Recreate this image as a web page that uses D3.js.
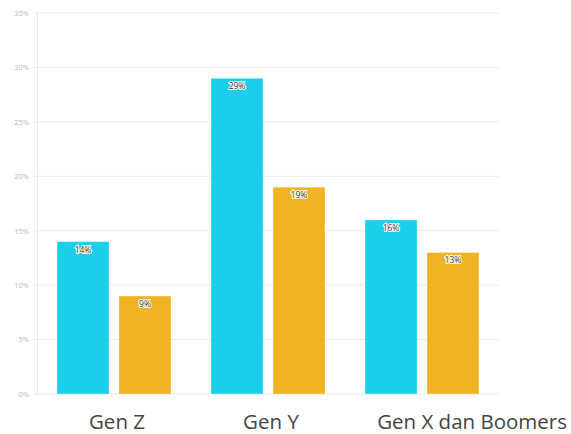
<!DOCTYPE html>
<html>
<head>
<meta charset="utf-8">
<script src="https://cdn.jsdelivr.net/npm/d3@7"></script>
<style>
  body { margin: 0; background: #fff; }
  svg { display: block; }
</style>
</head>
<body>
<div id="chart"></div>
<script>
// chart values
var categories = ["Gen Z", "Gen Y", "Gen X dan Boomers"];
var seriesNames = ["A", "B"];
var seriesA = [14, 29, 16];
var seriesB = [9, 19, 13];
var yTicks = [0, 5, 10, 15, 20, 25, 30, 35];

var colors = ["#1bcfeb", "#f0b323"];

var width = 571;
var height = 434;
var margin = { top: 13, left: 37, bottom: 40, right: 72 };

var svg = d3.select("#chart")
  .append("svg")
  .attr("width", width)
  .attr("height", height);

var innerW = width - margin.left - margin.right;
var innerH = height - margin.top - margin.bottom;

var g = svg.append("g")
  .attr("transform", "translate(" + margin.left + "," + margin.top + ")");

var x0 = d3.scaleBand()
  .domain(categories)
  .range([0, innerW])
  .paddingInner(0)
  .paddingOuter(0);

var x1 = d3.scaleBand()
  .domain(seriesNames)
  .range([20, x0.bandwidth() - 20])
  .paddingInner(0.16);

var y = d3.scaleLinear()
  .domain([0, 35])
  .range([innerH, 0]);

// grid lines
g.append("g")
  .selectAll("line")
  .data(yTicks)
  .enter()
  .append("line")
  .attr("x1", -3)
  .attr("x2", innerW)
  .attr("y1", function(d) { return y(d); })
  .attr("y2", function(d) { return y(d); })
  .attr("stroke", "#ebebeb")
  .attr("stroke-width", 1);

// y axis line
g.append("line")
  .attr("x1", 0.5)
  .attr("x2", 0.5)
  .attr("y1", 0)
  .attr("y2", innerH)
  .attr("stroke", "#e6e6e6");

// y tick labels
var yAxis = d3.axisLeft(y).tickValues(yTicks).tickSize(0).tickPadding(8)
  .tickFormat(function(d) { return d + "%"; });
g.append("g")
  .call(yAxis)
  .call(function(a) { a.select(".domain").remove(); })
  .selectAll("text")
  .attr("fill", "#b8b8b8")
  .style("font-family", "'Open Sans', sans-serif")
  .style("font-size", "7.5px");

var rows = categories.map(function(c, i) {
  return { cat: c, vals: [seriesA[i], seriesB[i]] };
});

var groups = g.selectAll(".grp")
  .data(rows)
  .enter()
  .append("g")
  .attr("class", "grp")
  .attr("transform", function(d) { return "translate(" + x0(d.cat) + ",0)"; });

groups.selectAll("rect")
  .data(function(d) { return d.vals.map(function(v, k) { return { v: v, k: k }; }); })
  .enter()
  .append("rect")
  .attr("x", function(d) { return x1(seriesNames[d.k]); })
  .attr("y", function(d) { return y(d.v); })
  .attr("width", x1.bandwidth())
  .attr("height", function(d) { return y(0) - y(d.v); })
  .attr("fill", function(d) { return colors[d.k]; })
  .attr("stroke", "rgba(255,255,255,0.35)")
  .attr("stroke-width", 1);

groups.selectAll(".lbl")
  .data(function(d) { return d.vals.map(function(v, k) { return { v: v, k: k }; }); })
  .enter()
  .append("text")
  .attr("class", "lbl")
  .attr("x", function(d) { return x1(seriesNames[d.k]) + x1.bandwidth() / 2; })
  .attr("y", function(d) { return y(d.v) + 11; })
  .attr("text-anchor", "middle")
  .attr("fill", "#333")
  .attr("stroke", "#fff")
  .attr("stroke-width", 2)
  .attr("paint-order", "stroke")
  .style("font-family", "'Open Sans', sans-serif")
  .style("font-size", "8.5px")
  .text(function(d) { return d.v + "%"; });

// category labels
g.selectAll(".cat")
  .data(categories)
  .enter()
  .append("text")
  .attr("class", "cat")
  .attr("x", function(d, i) {
    return i === categories.length - 1 ? width - margin.left - 4 : x0(d) + x0.bandwidth() / 2 + 3;
  })
  .attr("y", innerH + 35)
  .attr("text-anchor", function(d, i) { return i === categories.length - 1 ? "end" : "middle"; })
  .attr("fill", "#444")
  .style("font-family", "'Open Sans', sans-serif")
  .style("font-size", "20.5px")
  .text(function(d) { return d; });
</script>
</body>
</html>
